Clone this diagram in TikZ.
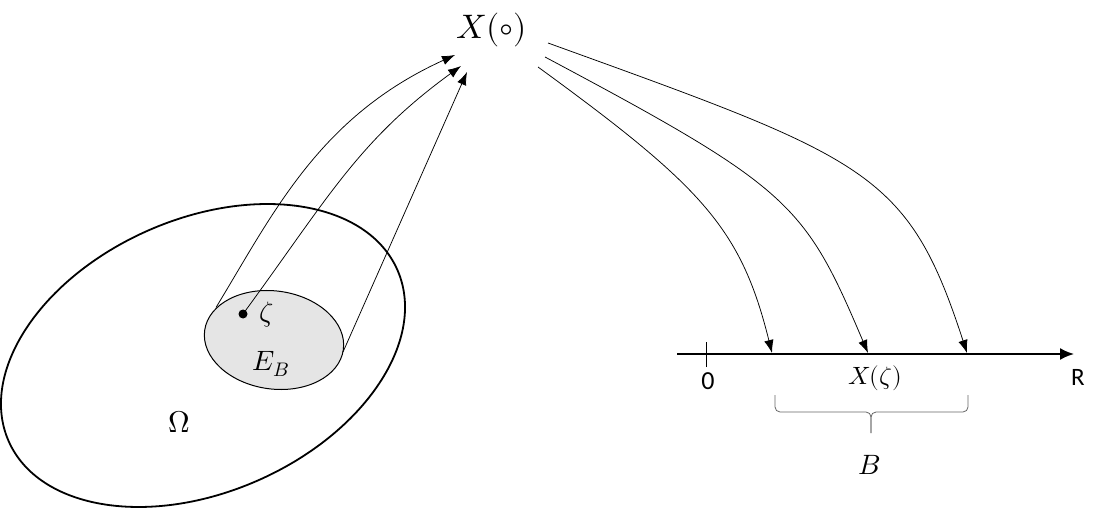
\documentclass[tikz,border=0pt]{standalone}
\usepackage{unicode-math}
\setmathfont{Latin Modern Math}
\newfontfamily\calib{Carlito}
\usetikzlibrary{arrows.meta}
\begin{document}
\begin{tikzpicture}[x=1pt,y=1pt,
  conn/.style={line width=0.75pt,-{Latex[length=13pt,width=9.5pt]}},
  lbl/.style={inner sep=0pt}]
\useasboundingbox (0,0) rectangle (1102,509);
% big ellipse Omega
\draw[line width=1.8pt,rotate around={23.8:(203,153.5)}] (203,153.5) ellipse [x radius=212.4,y radius=136.5];
% small ellipse E_B
\draw[line width=1pt,fill=black!10,rotate around={-8:(274,169)}] (274,169) ellipse [x radius=70,y radius=49];
\coordinate (e1) at (216,201.5);
\coordinate (e3) at (343,157);
\fill (243,195) circle (4.5pt);
\coordinate (dot) at (243,195);
\node[lbl] (zeta) at (267,194) {\fontsize{28}{32}\selectfont$\zeta$};
\node[lbl] (EB) at (271,145) {\fontsize{28}{32}\selectfont$E_B$};
\node[lbl] (Om) at (179,87) {\fontsize{30}{36}\selectfont$\Omega$};
\node[lbl] (X) at (492,479) {\fontsize{34}{40}\selectfont$X(\circ)$};
\coordinate (t1) at (455,454);
\coordinate (t2) at (461,443);
\coordinate (t3) at (467,437);
\draw[conn] (e1) .. controls (274,297) and (319.4,392.4) .. (t1);
\draw[conn] (dot) .. controls (327.6,310.3) and (357.8,368) .. (t2);
\draw[conn] (e3) -- (t3);
% axis
\coordinate (a0) at (677,155);
\coordinate (a1) at (1074,155);
\draw[line width=1.8pt,-{Latex[length=14pt,width=12pt]}] (a0) -- (a1);
\draw[line width=0.8pt] (706,142) -- (706,167);
\node[lbl] (zero) at (708,128) {\fontsize{26}{30}\calib 0};
\node[lbl] (R) at (1078,132) {\fontsize{25}{30}\calib R};
\node[lbl] (Xz) at (875,131) {\fontsize{25}{30}\selectfont$X(\zeta)$};
\coordinate (s1) at (538,442);
\coordinate (s2) at (545,452);
\coordinate (s3) at (548,466);
\coordinate (r1) at (772,156);
\coordinate (r2) at (868,156);
\coordinate (r3) at (967,156);
\draw[conn] (s1) .. controls (702,322.5) and (741,281) .. (r1);
\draw[conn] (s2) .. controls (791,321) and (804.5,305.5) .. (r2);
\draw[conn] (s3) .. controls (867.3,350.5) and (907.8,338.2) .. (r3);
% brace
\draw[line width=0.8pt,black!60,rounded corners=5pt] (775,114) -- (775,97) -- (871,97) -- (871,76);
\draw[line width=0.8pt,black!60,rounded corners=5pt] (968,114) -- (968,97) -- (871,97) -- (871,76);
\node[lbl] (B) at (869,44) {\fontsize{28}{33}\selectfont$B$};
\end{tikzpicture}
\end{document}
